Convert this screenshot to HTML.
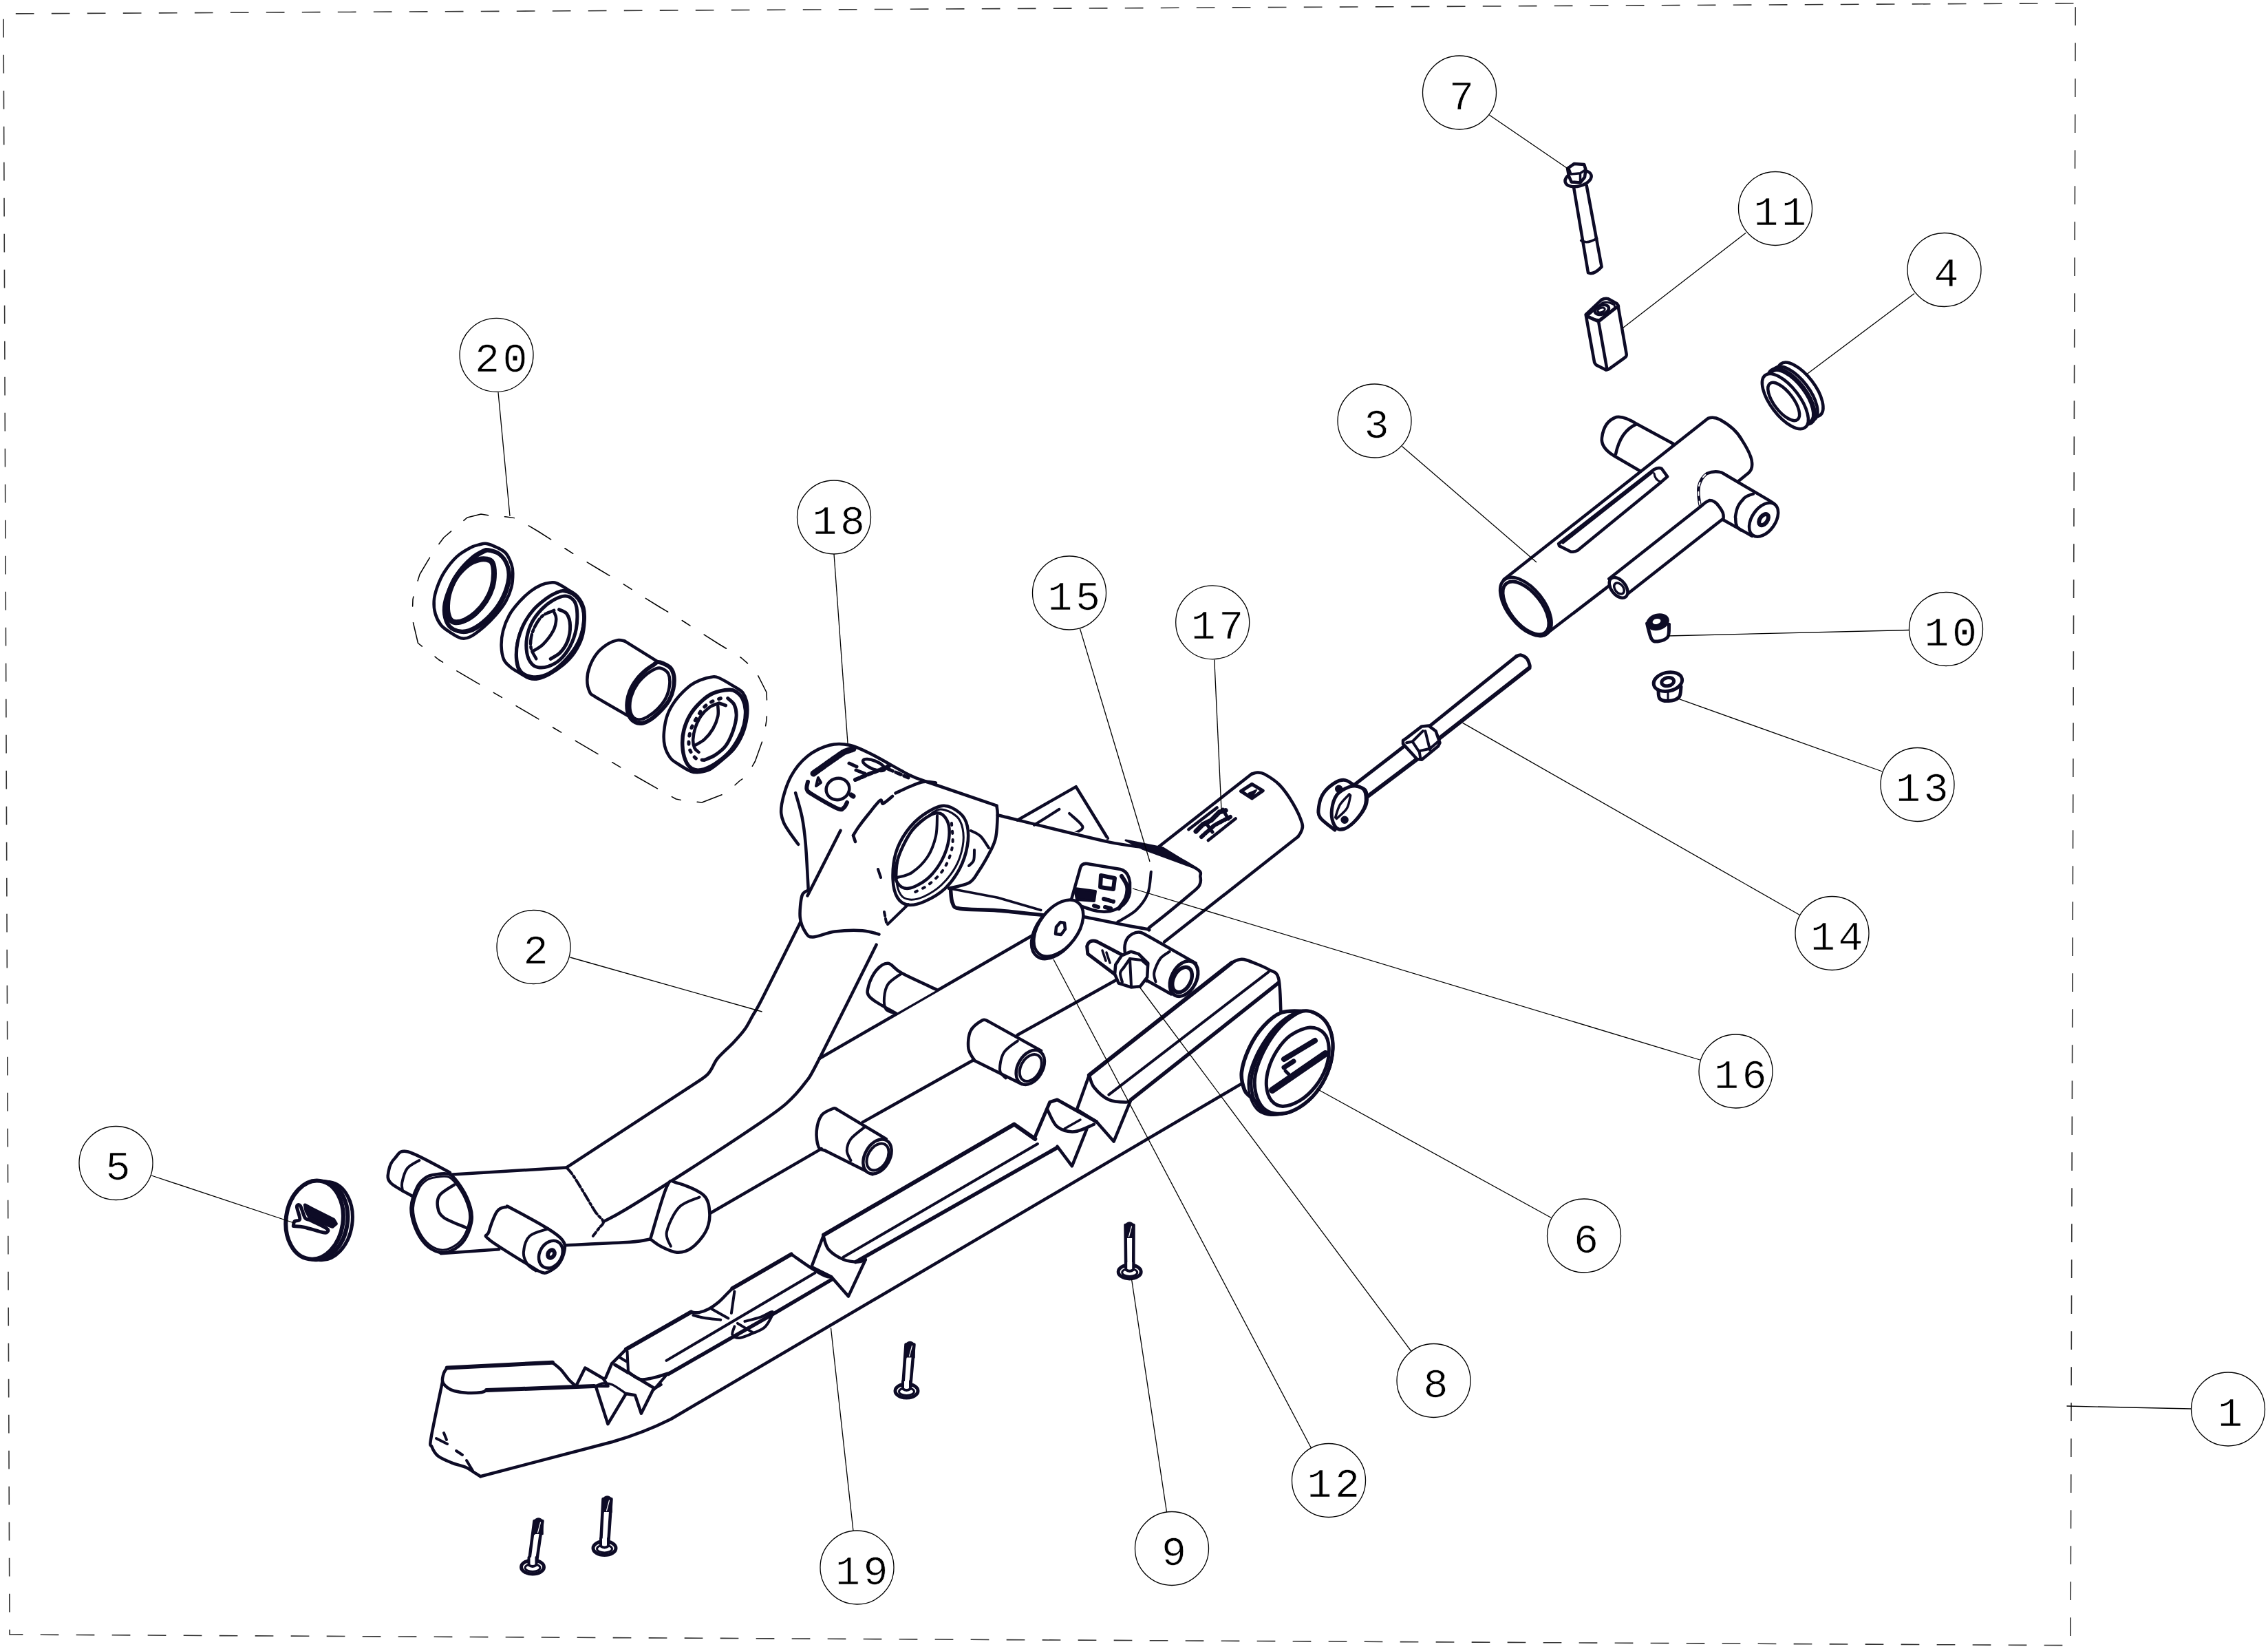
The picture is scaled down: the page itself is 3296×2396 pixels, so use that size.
<!DOCTYPE html>
<html><head><meta charset="utf-8"><style>
html,body{margin:0;padding:0;background:#fff;width:3296px;height:2396px;overflow:hidden}
svg{display:block}
</style></head><body>
<svg width="3296" height="2396" viewBox="0 0 3296 2396">
<rect width="3296" height="2396" fill="#fff"/>
<g fill="none" stroke="#333" stroke-width="1.6" stroke-dasharray="26.7 25.3">
<path d="M5.04,27.7 L14,2375 L3009,2390.7 L3016.2,4.7"/>
<path d="M22.8,19.9 L3016.2,4.7"/>
</g>
<g fill="none" stroke="#0d0b26" stroke-width="4.5" stroke-linejoin="round" stroke-linecap="round">
<!-- bolt 7 -->
<g id="bolt7">
<path d="M2287.2,273 L2308,396.3 Q2316,400 2327.6,387.6 L2305.7,269.5"/>
<path d="M2297.6,349.6 Q2307,355 2320.6,346.2" stroke-width="3.5"/>
<ellipse cx="2293.6" cy="259.5" rx="19.5" ry="11" transform="rotate(-15 2293.6 259.5)" fill="#fff"/>
<path d="M2278,244.8 L2287.8,237.9 L2302.2,239 L2304.5,246.5 L2303,257.5 L2296.5,265.5 L2283.7,264.4 L2280,256 Z" fill="#fff"/>
<path d="M2280,245 L2283,253 L2296.5,251.7 L2304.5,246.5 M2296.5,251.7 L2296.5,265.5" stroke-width="3.5"/>
</g>
<!-- spacer 11 -->
<g id="spacer11">
<path d="M2304.6,457.1 L2327.1,435.8 Q2332,433 2337.3,434.2 L2349.9,441.3 Q2352.5,444 2351.9,446.8 L2363.7,514.6 Q2364,518 2361,519.8 L2338.1,536.3 Q2335,538 2333,537.1 L2320,530.4 Q2317,528 2316.8,524.9 Z" fill="#fff"/>
<path d="M2305.4,459.4 L2323.1,467.3 L2351.1,445.2 M2323.1,467.3 L2335.3,535.9"/>
<path d="M2308,458 L2329,440 Q2336,437 2346,443 L2347,447 L2325,464 Q2321,466 2308,459" stroke-width="3"/>
<ellipse cx="2327.9" cy="450" rx="10.5" ry="6.5" transform="rotate(-20 2327.9 450)"/>
<ellipse cx="2327" cy="450.5" rx="5.5" ry="3.2" transform="rotate(-20 2327 450.5)" stroke-width="3"/>
</g>
<!-- bushing 4 -->
<g id="bush4">
<ellipse cx="2616.4" cy="566.1" rx="47" ry="21" transform="rotate(52.6 2616.4 566.1)" fill="#fff"/>
<ellipse cx="2608.4" cy="572.1" rx="47" ry="21" transform="rotate(52.6 2608.4 572.1)" fill="#fff"/>
<ellipse cx="2603.4" cy="576.1" rx="47" ry="21" transform="rotate(52.6 2603.4 576.1)" fill="#fff" stroke-width="7"/>
<ellipse cx="2594.4" cy="583.1" rx="47.8" ry="21" transform="rotate(52.6 2594.4 583.1)" fill="#fff"/>
<ellipse cx="2592.2" cy="583.5" rx="33" ry="14" transform="rotate(52.6 2592.2 583.5)"/>
</g>
<!-- part 3 T tube -->
<g id="part3">
<path d="M2344.7,661.7 Q2326,650 2328,636 Q2331,612 2349,606 Q2360,604 2378.6,616.1 L2431.7,644.7 L2420,700 L2382.9,684 Z" fill="#fff"/>
<path d="M2378.6,616.1 Q2355,626 2348,660"/>
<path d="M2185.5,842.1 L2482.7,607.6 Q2491,605 2499.6,609.7 Q2522,622 2531.5,639.4 Q2546,662 2546.1,672.7 Q2547,682 2541,687.2 L2526.6,699 L2572.4,727.9 L2583,760 L2546.1,778.8 L2503.7,755 L2444.2,800 L2244.9,922.8 Z" fill="#fff" stroke="none"/>
<path d="M2185.5,842.1 L2482.7,607.6 Q2491,605 2499.6,609.7 Q2522,622 2531.5,639.4 Q2546,662 2546.1,672.7 Q2547,682 2541,687.2 L2526.6,699"/>
<path d="M2470.6,733.9 Q2467,716 2469,706 Q2472,694 2480.7,688 Q2490,684 2499.4,685.9 Q2502,686 2504.5,688 L2572.4,727.9 Q2578,731 2580.9,734.7" />
<path d="M2470.6,733.9 Q2467,716 2469,706 Q2472,694 2480.7,688" stroke="#fff" stroke-width="2" stroke-dasharray="5 9"/>
<path d="M2547.8,717.7 Q2536,721 2533.4,725.4 Q2526,733 2524,740.6 Q2521,753 2522.3,753.4 Q2522,762 2524.9,766.1 L2530,770.4"/>
<path d="M2503.7,755 L2546.1,778.8"/>
<ellipse cx="2563.1" cy="755.1" rx="27.5" ry="17" transform="rotate(-55 2563.1 755.1)" fill="#fff"/>
<ellipse cx="2563.1" cy="755.1" rx="9" ry="5.5" transform="rotate(-55 2563.1 755.1)" stroke-width="6"/>
<path d="M2244.9,922.8 L2340.4,849.6"/>
<path d="M2338.3,841.1 L2474,733.9 Q2479,729 2484.1,727.1 Q2488,727 2490.9,728.8 Q2495,731 2498.6,736.4 Q2502,741 2503.7,744.9 Q2505,749 2504.5,753.4 L2359.5,867.6 Z" fill="#fff"/>
<ellipse cx="2352.1" cy="853.8" rx="17" ry="10.5" transform="rotate(51.7 2352.1 853.8)" fill="#fff"/>
<ellipse cx="2353" cy="855" rx="9" ry="6" transform="rotate(51.7 2353 855)" stroke-width="3.5"/>
<path d="M2265.1,790.1 L2404.1,681.9 Q2410,679 2414.7,680.8 L2423.2,692.5 L2414.7,699.9 L2292.7,799.7 Q2288,802 2283.1,801.8 L2266.1,793.3 Z"/>
<path d="M2271.4,789.1 L2402,686.1 M2404,688 Q2405,697 2413,700" stroke-width="3"/>
<ellipse cx="2217.4" cy="881.5" rx="50" ry="26.3" transform="rotate(51.7 2217.4 881.5)" fill="#fff"/>
<ellipse cx="2217.5" cy="883.5" rx="45.5" ry="23" transform="rotate(51.7 2217.5 883.5)" stroke-width="5"/>
</g>
<path d="M645.0,781.0 L679.0,752.0 L699.0,747.0 L711.0,749.0 L736.0,751.0 L750.0,753.0 L782.0,772.0 L815.0,793.0 L837.0,807.0 L870.0,827.0 L905.0,848.0 L925.0,861.0 L957.0,881.0 L992.0,902.0 L1012.0,915.0 L1045.0,936.0 L1065.0,948.0 L1077.5,956.0 L1097.5,973.5 L1114.0,1006.0 L1115.0,1031.0 L1114.0,1046.0 L1110.0,1071.0 L1097.5,1106.0 L1085.0,1127.5 L1075.0,1134.5 L1055.0,1152.5 L1020.0,1166.0 L995.0,1163.5 L982.5,1161.0 L957.5,1147.0 L925.0,1128.5 L659.0,972.0 L637.5,958.5 L625.0,948.5 L607.5,934.5 L599.0,898.5 L600.0,871.0 L602.5,858.5 L610.0,834.5 L630.0,801.0Z" stroke="#000" stroke-width="1.5" stroke-dasharray="14 24 38 24"/>
<path d="M707.3,790.0 C711.7,790.8 718.6,793.7 723.3,796.0 C728.0,798.3 732.0,800.0 735.3,804.0 C738.6,808.0 741.6,815.1 743.3,820.0 C745.0,824.9 745.3,827.8 745.3,833.3 C745.3,838.8 745.0,846.6 743.3,853.3 C741.6,860.0 739.1,866.6 735.3,873.3 C731.5,880.0 726.0,887.1 720.7,893.3 C715.4,899.5 709.5,905.4 703.3,910.7 C697.1,916.0 688.8,922.5 683.3,925.3 C677.8,928.1 674.9,928.4 670.0,927.3 C665.1,926.2 658.9,921.9 654.0,918.7 C649.1,915.5 644.2,912.5 640.7,908.0 C637.2,903.5 634.4,897.8 632.7,892.0 C631.0,886.2 630.3,879.8 630.7,873.3 C631.1,866.8 632.8,860.4 635.3,853.3 C637.8,846.2 641.3,838.0 646.0,830.7 C650.7,823.4 657.1,815.1 663.3,809.3 C669.5,803.5 677.7,799.0 683.3,796.0 C688.9,793.0 692.7,792.3 696.7,791.3 C700.7,790.3 702.9,789.2 707.3,790.0Z" fill="#fff" stroke-width="4.5"/>
<path d="M710.0,799.3 C714.0,800.1 721.5,801.8 726.0,805.3 C730.5,808.8 734.5,814.2 736.7,820.0 C738.9,825.8 740.2,832.2 739.3,840.0 C738.4,847.8 735.1,858.5 731.3,866.7 C727.5,874.9 722.5,882.4 716.7,889.3 C710.9,896.2 703.4,903.3 696.7,908.0 C690.0,912.7 682.9,916.2 676.7,917.3 C670.5,918.4 664.0,917.1 659.3,914.7 C654.6,912.3 650.9,908.3 648.7,902.7 C646.5,897.1 645.3,888.9 646.0,881.3 C646.7,873.7 649.2,865.7 652.7,857.3 C656.2,848.9 661.8,838.5 667.3,830.7 C672.8,822.9 680.2,815.7 686.0,810.7 C691.8,805.7 698.0,802.6 702.0,800.7 C706.0,798.8 706.0,798.5 710.0,799.3Z" stroke-width="6"/>
<path d="M712.0,801.3 C716.0,802.1 723.5,803.8 728.0,807.3 C732.5,810.8 736.5,816.2 738.7,822.0 C740.9,827.8 742.2,834.2 741.3,842.0 C740.4,849.8 737.1,860.5 733.3,868.7 C729.5,876.9 724.5,884.4 718.7,891.3 C712.9,898.2 705.4,905.3 698.7,910.0 C692.0,914.7 684.9,918.2 678.7,919.3 C672.5,920.4 666.0,919.1 661.3,916.7 C656.6,914.3 652.9,910.3 650.7,904.7 C648.5,899.1 647.3,890.9 648.0,883.3 C648.7,875.7 651.2,867.7 654.7,859.3 C658.2,850.9 663.8,840.5 669.3,832.7 C674.8,824.9 682.2,817.7 688.0,812.7 C693.8,807.7 700.0,804.6 704.0,802.7 C708.0,800.8 708.0,800.5 712.0,801.3Z" stroke-width="3"/>
<path d="M707.3,812.7 C710.6,813.4 713.5,813.9 715.3,817.3 C717.1,820.7 718.0,827.3 718.0,833.3 C718.0,839.3 717.3,846.6 715.3,853.3 C713.3,860.0 710.0,867.1 706.0,873.3 C702.0,879.5 696.4,886.0 691.3,890.7 C686.2,895.4 680.4,899.1 675.3,901.3 C670.2,903.5 664.5,904.7 660.7,904.0 C656.9,903.3 654.5,901.3 652.7,897.3 C650.9,893.3 649.8,886.7 650.0,880.0 C650.2,873.3 651.5,864.6 654.0,857.3 C656.5,850.0 660.2,842.2 664.7,836.0 C669.2,829.8 675.6,823.8 680.7,820.0 C685.8,816.2 690.9,814.5 695.3,813.3 C699.7,812.1 704.0,812.0 707.3,812.7Z" stroke-width="8"/>
<path d="M799.0,846.8 C802.7,846.4 804.4,845.6 808.9,847.4 C813.4,849.1 821.1,854.0 826.2,857.3 C831.4,860.6 836.1,862.9 839.8,867.2 C843.5,871.5 846.8,877.5 848.4,883.2 C850.0,889.0 850.0,894.5 849.6,901.7 C849.2,908.9 848.4,918.6 845.9,926.4 C843.4,934.2 839.3,942.0 834.8,948.6 C830.3,955.2 824.8,960.8 818.8,965.9 C812.8,971.0 805.2,976.1 799.0,979.5 C792.8,982.9 786.6,985.3 781.7,986.3 C776.8,987.3 773.7,987.0 769.4,985.7 C765.1,984.4 760.3,981.0 755.8,978.3 C751.3,975.6 746.1,972.9 742.2,969.6 C738.3,966.3 734.6,963.6 732.3,958.5 C730.0,953.4 728.8,945.8 728.6,938.8 C728.4,931.8 729.2,923.9 731.1,916.5 C733.0,909.1 735.9,901.3 739.8,894.3 C743.7,887.3 749.2,880.6 754.6,874.6 C760.0,868.6 766.5,862.6 771.9,858.5 C777.2,854.4 782.2,851.9 786.7,849.9 C791.2,847.9 795.3,847.2 799.0,846.8Z" fill="#fff" stroke-width="4.5"/>
<path d="M821.2,858.5 C825.9,859.3 833.0,861.8 837.3,865.9 C841.6,870.0 845.4,876.8 847.2,883.2 C849.1,889.6 849.2,896.6 848.4,904.2 C847.6,911.8 845.5,921.1 842.2,928.9 C838.9,936.7 834.2,944.1 828.6,951.1 C823.0,958.1 815.5,965.8 808.9,970.9 C802.3,976.0 795.3,980.0 789.1,982.0 C782.9,984.0 777.2,984.2 771.9,983.2 C766.5,982.2 760.5,979.9 757.0,975.8 C753.5,971.7 751.7,965.5 750.9,958.5 C750.1,951.5 750.5,942.2 752.1,933.8 C753.7,925.4 756.8,915.9 760.7,907.9 C764.6,899.9 770.0,892.1 775.6,885.7 C781.2,879.3 788.6,873.7 794.1,869.6 C799.6,865.5 804.4,862.9 808.9,861.0 C813.4,859.1 816.5,857.7 821.2,858.5Z" stroke-width="5"/>
<path d="M819.7,860.0 C824.4,860.8 831.5,863.3 835.8,867.4 C840.1,871.5 843.9,878.3 845.7,884.7 C847.6,891.1 847.7,898.1 846.9,905.7 C846.1,913.3 844.0,922.6 840.7,930.4 C837.4,938.2 832.7,945.6 827.1,952.6 C821.5,959.6 814.0,967.2 807.4,972.4 C800.8,977.5 793.8,981.5 787.6,983.5 C781.4,985.5 775.8,985.7 770.4,984.7 C765.0,983.7 759.0,981.4 755.5,977.3 C752.0,973.2 750.2,967.0 749.4,960.0 C748.6,953.0 749.0,943.7 750.6,935.3 C752.2,926.9 755.3,917.4 759.2,909.4 C763.1,901.4 768.5,893.6 774.1,887.2 C779.7,880.8 787.1,875.2 792.6,871.1 C798.1,867.0 802.9,864.4 807.4,862.5 C811.9,860.6 815.0,859.2 819.7,860.0Z" stroke-width="2.5"/>
<path d="M821.2,865.9 C826.2,865.9 830.7,868.6 833.6,872.1 C836.5,875.6 837.9,879.9 838.5,886.9 C839.1,893.9 838.9,905.5 837.3,914.1 C835.6,922.8 832.5,931.4 828.6,938.8 C824.7,946.2 819.1,953.6 813.8,958.5 C808.4,963.4 801.9,966.5 796.5,968.4 C791.1,970.2 785.8,970.4 781.7,969.6 C777.6,968.8 774.6,967.0 771.9,963.5 C769.2,960.0 766.7,954.8 765.7,948.6 C764.7,942.4 764.5,933.8 765.7,926.4 C766.9,919.0 769.6,911.0 773.1,904.2 C776.6,897.4 781.6,891.1 786.7,885.7 C791.8,880.4 798.1,875.4 803.9,872.1 C809.6,868.8 816.2,865.9 821.2,865.9Z" stroke-width="5"/>
<path d="M812.6,885.7 C814.5,886.7 821.0,888.0 823.7,891.9 C826.4,895.8 828.4,902.5 828.6,909.1 C828.8,915.7 827.4,924.8 824.9,931.4 C822.4,938.0 817.9,944.3 813.8,948.6 C809.7,952.9 802.5,955.8 800.2,957.3" stroke-width="5"/>
<path d="M805.2,889.4 C805.7,891.0 808.5,894.8 808.3,899.3 C808.1,903.8 807.2,910.3 804.0,916.5 C800.8,922.7 794.1,931.3 789.1,936.3 C784.1,941.2 776.8,944.6 774.3,946.2" stroke-width="4.5"/>
<path d="M805.2,886.9 C802.5,888.1 793.6,890.6 789.1,894.3 C784.6,898.0 780.9,903.8 778.0,909.1 C775.1,914.5 772.9,920.8 771.9,926.4 C770.9,932.0 770.7,937.4 771.9,942.5 C773.1,947.6 778.1,954.8 779.3,957.3" stroke-width="4.5" stroke-dasharray="14 4 3 4"/>
<path d="M897.8,930.1 L907.7,931.4 L957.0,962.2 L975.0,972.0 L979.4,990.0 L972.2,1017.7 L945.4,1045.6 L925.0,1050.0 L912.6,1040.0 L865.7,1012.8 L857.0,1005.4 L853.3,988.1 L857.0,968.4 L868.1,948.6 L884.2,935.1Z" fill="#fff" stroke="none"/>
<path d="M912.6,1040.0 C904.8,1035.5 875.0,1018.6 865.7,1012.8 C856.4,1007.0 859.1,1009.5 857.0,1005.4 C854.9,1001.3 853.3,994.3 853.3,988.1 C853.3,981.9 854.5,975.0 857.0,968.4 C859.5,961.8 863.6,954.1 868.1,948.6 C872.6,943.1 879.2,938.2 884.2,935.1 C889.2,932.0 893.9,930.7 897.8,930.1 C901.7,929.5 906.1,931.2 907.7,931.4" stroke-width="4.5"/>
<path d="M907.7,931.4 L957.0,962.2" stroke-width="4.5"/>
<path d="M955.7,962.1 C958.1,961.8 960.8,962.7 963.9,964.1 C967.0,965.5 971.6,967.2 974.2,970.3 C976.8,973.4 978.7,977.6 979.4,982.7 C980.1,987.9 979.6,995.4 978.4,1001.2 C977.2,1007.0 975.3,1012.4 972.2,1017.7 C969.1,1023.0 964.3,1028.6 959.8,1033.2 C955.3,1037.8 949.7,1042.7 945.4,1045.6 C941.1,1048.5 937.6,1050.0 934.0,1050.7 C930.4,1051.4 927.0,1051.4 923.7,1049.7 C920.4,1048.0 916.5,1044.7 914.4,1040.4 C912.3,1036.1 911.1,1029.9 911.3,1023.9 C911.5,1017.9 913.1,1010.5 915.5,1004.3 C917.9,998.1 921.8,991.9 925.8,986.8 C929.8,981.6 935.2,976.8 939.2,973.4 C943.2,970.0 946.8,968.1 949.5,966.2 C952.2,964.3 953.3,962.5 955.7,962.1Z" fill="#fff" stroke-width="6"/>
<path d="M961.9,971.3 C964.8,972.5 969.2,974.8 971.1,978.6 C973.0,982.4 973.7,988.2 973.2,994.0 C972.7,999.8 970.9,1007.6 968.0,1013.6 C965.1,1019.6 960.2,1025.5 955.7,1030.1 C951.2,1034.7 945.5,1038.8 941.2,1041.4 C936.9,1044.0 933.3,1045.4 929.9,1045.6 C926.5,1045.8 923.0,1045.1 920.6,1042.5 C918.2,1039.9 916.0,1035.3 915.5,1030.1 C915.0,1024.9 915.6,1017.7 917.5,1011.5 C919.4,1005.3 922.8,998.5 926.8,993.0 C930.8,987.5 936.7,982.2 941.2,978.6 C945.7,975.0 950.2,972.5 953.6,971.3 C957.0,970.1 959.0,970.1 961.9,971.3Z" stroke-width="4.5"/>
<path d="M1034.0,983.7 C1038.3,983.2 1038.6,982.3 1044.3,984.7 C1050.0,987.1 1062.2,994.5 1068.0,998.1 C1073.8,1001.7 1076.5,1002.4 1079.4,1006.4 C1082.3,1010.4 1084.6,1015.9 1085.6,1021.9 C1086.6,1027.9 1086.6,1035.1 1085.6,1042.5 C1084.6,1049.9 1082.5,1058.7 1079.4,1066.2 C1076.3,1073.8 1072.0,1081.5 1067.0,1087.8 C1062.0,1094.1 1055.3,1099.3 1049.5,1104.3 C1043.7,1109.3 1037.5,1114.8 1032.0,1117.7 C1026.5,1120.6 1021.1,1121.4 1016.5,1121.9 C1011.9,1122.4 1009.4,1122.9 1004.1,1120.8 C998.8,1118.7 989.5,1112.8 984.5,1109.5 C979.5,1106.2 977.3,1105.5 974.2,1101.2 C971.1,1096.9 967.5,1090.1 966.0,1083.7 C964.5,1077.3 964.3,1070.6 965.0,1063.1 C965.7,1055.5 967.2,1046.1 970.1,1038.4 C973.0,1030.7 977.0,1023.8 982.5,1016.7 C988.0,1009.7 997.1,1000.9 1003.1,996.1 C1009.1,991.3 1013.5,989.9 1018.6,987.8 C1023.8,985.7 1029.7,984.2 1034.0,983.7Z" fill="#fff" stroke-width="4.5"/>
<path d="M1059.8,1002.3 C1065.5,1002.0 1066.8,1003.2 1070.1,1005.4 C1073.4,1007.6 1077.2,1011.2 1079.4,1015.7 C1081.6,1020.2 1083.2,1026.0 1083.5,1032.2 C1083.8,1038.4 1083.1,1045.9 1081.4,1052.8 C1079.7,1059.7 1077.0,1066.5 1073.2,1073.4 C1069.4,1080.3 1064.7,1087.8 1058.8,1094.0 C1052.9,1100.2 1044.8,1106.4 1038.1,1110.5 C1031.4,1114.6 1024.1,1117.8 1018.6,1118.8 C1013.1,1119.8 1009.0,1119.1 1005.2,1116.7 C1001.4,1114.3 998.1,1109.8 995.9,1104.3 C993.7,1098.8 992.1,1090.9 991.8,1083.7 C991.4,1076.5 991.9,1068.5 993.8,1061.0 C995.7,1053.5 999.0,1045.3 1003.1,1038.4 C1007.2,1031.5 1013.1,1025.0 1018.6,1019.8 C1024.1,1014.6 1029.2,1010.3 1036.1,1007.4 C1043.0,1004.5 1054.1,1002.6 1059.8,1002.3Z" stroke-width="5.5"/>
<path d="M1047.4,1014.6 C1045.2,1015.5 1038.1,1017.6 1034.0,1019.8 C1029.9,1022.0 1026.1,1024.4 1022.7,1028.0 C1019.3,1031.6 1016.3,1036.6 1013.4,1041.4 C1010.5,1046.2 1007.2,1051.9 1005.2,1056.9 C1003.2,1061.9 1002.1,1066.5 1001.5,1071.3 C1000.9,1076.1 1000.7,1081.7 1001.5,1085.8 C1002.3,1089.9 1004.2,1093.2 1006.2,1096.1 C1008.2,1099.0 1010.5,1101.9 1013.4,1103.3 C1016.3,1104.7 1022.0,1104.1 1023.7,1104.3" stroke-width="5" stroke-dasharray="3 9"/>
<path d="M1023.7,1104.3 C1026.3,1103.1 1034.1,1100.5 1039.2,1097.1 C1044.3,1093.7 1050.3,1089.4 1054.6,1083.7 C1058.9,1078.0 1062.3,1070.3 1064.9,1063.1 C1067.5,1055.9 1069.8,1046.9 1070.1,1040.4 C1070.4,1033.9 1069.1,1028.2 1067.0,1023.9 C1064.9,1019.6 1059.2,1016.1 1057.7,1014.6" stroke-width="5"/>
<path d="M1045.4,1021.9 C1046.9,1022.4 1053.1,1024.5 1054.6,1025.0" stroke-width="5"/>
<path d="M1043.3,1026.0 C1043.3,1028.4 1044.5,1034.9 1043.3,1040.4 C1042.1,1045.9 1039.4,1053.3 1036.1,1059.0 C1032.8,1064.7 1028.0,1070.5 1023.7,1074.4 C1019.4,1078.4 1012.5,1081.3 1010.3,1082.7" stroke-width="4.5"/>
<path d="M1044.3,1021.9 C1042.2,1022.8 1036.3,1023.9 1032.0,1027.0 C1027.7,1030.1 1022.2,1035.2 1018.6,1040.4 C1015.0,1045.6 1012.2,1052.2 1010.3,1057.9 C1008.4,1063.6 1007.4,1069.6 1007.2,1074.4 C1007.0,1079.2 1007.9,1083.7 1009.3,1086.8 C1010.7,1089.9 1014.5,1092.0 1015.5,1093.0" stroke-width="4.5"/>
<path d="M1165.3,1335.7 L1108.3,1449.7 L1094.0,1475.3 L1082.6,1495.3 L1065.5,1515.2 L1042.7,1538.0 L1028.5,1560.8 L1000.0,1580.8 L823.3,1696.4 L823.3,1696.4 L654.0,1706.8 L640.6,1821.2 L945.1,1800.4 L1031.3,1763.2 L1050.0,1751.4 L1000.0,1700.5 L1099.7,1634.9 L1142.5,1603.6 L1171.0,1572.2 L1190.9,1538.0 L1273.6,1372.7Z" fill="#fff" stroke="none"/>
<path d="M1165.3,1335.7 C1155.8,1354.7 1120.2,1426.4 1108.3,1449.7 C1096.4,1473.0 1098.3,1467.7 1094.0,1475.3 C1089.7,1482.9 1087.3,1488.6 1082.6,1495.3 C1077.8,1502.0 1072.2,1508.1 1065.5,1515.2 C1058.8,1522.3 1048.9,1530.4 1042.7,1538.0 C1036.5,1545.6 1035.6,1553.7 1028.5,1560.8 C1021.4,1567.9 1004.8,1577.5 1000.0,1580.8" stroke-width="4.5"/>
<path d="M1000.0,1580.8 L823.3,1696.4" stroke-width="4.5"/>
<path d="M1273.6,1372.7 C1259.8,1400.2 1208.0,1504.8 1190.9,1538.0 C1173.8,1571.2 1179.1,1561.3 1171.0,1572.2 C1162.9,1583.1 1154.4,1593.1 1142.5,1603.6 C1130.6,1614.0 1123.5,1618.8 1099.7,1634.9 C1076.0,1651.1 1031.7,1680.1 1000.0,1700.5 C968.3,1720.9 930.0,1744.9 909.5,1757.3 C889.0,1769.7 882.2,1772.1 876.8,1775.1" stroke-width="4.5"/>
<path d="M1190.9,1538.0 L1501.6,1358.5" stroke-width="4.5"/>
<path d="M1031.3,1763.2 L1193.8,1669.1" stroke-width="4.5"/>
<path d="M1253.6,1630.6 L1416.1,1539.5" stroke-width="4.5"/>
<path d="M1478.8,1503.8 L1622.0,1424.0" stroke-width="4.5"/>
<path d="M654.0,1706.8 L823.3,1696.4" stroke-width="4.5"/>
<path d="M640.6,1821.2 L725.3,1815.2" stroke-width="4.5"/>
<path d="M820.4,1809.3 C836.2,1808.5 894.6,1806.3 915.4,1804.8 C936.2,1803.3 940.1,1801.1 945.1,1800.4" stroke-width="4.5"/>
<path d="M823.3,1696.4 C824.8,1698.1 828.2,1701.1 832.2,1706.8 C836.2,1712.5 841.7,1721.8 847.1,1730.7 C852.5,1739.6 860.0,1752.9 864.9,1760.3 C869.8,1767.7 875.8,1771.1 876.8,1775.1 C877.8,1779.0 873.4,1780.5 870.9,1784.0 C868.4,1787.5 863.4,1793.9 861.9,1795.9" stroke-width="4" stroke-dasharray="12 4 3 4"/>
<path d="M945.1,1800.4 C949.1,1787.8 962.5,1738.2 968.9,1724.6 C975.3,1711.0 974.8,1716.7 983.7,1718.7 C992.6,1720.7 1014.5,1729.1 1022.4,1736.5 C1030.3,1743.9 1030.8,1754.3 1031.3,1763.2 C1031.8,1772.1 1029.8,1781.6 1025.3,1790.0 C1020.8,1798.4 1011.4,1808.8 1004.5,1813.7 C997.6,1818.7 991.1,1820.2 983.7,1819.7 C976.3,1819.2 966.4,1814.0 960.0,1810.8 C953.6,1807.6 947.6,1802.1 945.1,1800.4" fill="#fff" stroke-width="4.5"/>
<path d="M1016.4,1739.5 C1011.5,1742.0 994.6,1745.9 986.7,1754.3 C978.8,1762.7 970.9,1780.6 968.9,1790.0 C966.9,1799.4 973.8,1807.3 974.8,1810.8" stroke-width="4"/>
<path d="M654.0,1703.8 C643.9,1698.8 606.5,1677.0 593.1,1673.5 C579.7,1670.0 578.5,1678.4 573.8,1683.0 C569.1,1687.6 565.9,1695.0 564.9,1700.9 C563.9,1706.9 561.6,1712.3 567.8,1718.7 C574.0,1725.1 596.3,1736.0 602.0,1739.5" fill="#fff" stroke-width="4.5"/>
<path d="M609.4,1686.0 C606.4,1688.0 595.8,1692.5 591.6,1697.9 C587.4,1703.4 585.3,1713.2 584.2,1718.7 C583.1,1724.2 585.0,1728.6 585.1,1730.6" stroke-width="4"/>
<path d="M631.7,1706.8 C637.7,1706.0 647.3,1703.3 654.0,1706.8 C660.7,1710.2 666.8,1719.6 671.8,1727.5 C676.8,1735.4 681.5,1746.4 683.7,1754.3 C685.9,1762.2 686.7,1767.2 685.2,1775.1 C683.7,1783.0 679.5,1795.0 674.8,1801.9 C670.1,1808.8 663.0,1813.7 657.0,1816.7 C651.0,1819.7 645.6,1821.2 639.1,1819.7 C632.6,1818.2 624.2,1813.8 618.3,1807.8 C612.4,1801.8 607.0,1792.9 603.5,1784.0 C600.0,1775.1 597.0,1764.2 597.5,1754.3 C598.0,1744.4 602.9,1731.8 606.4,1724.6 C609.9,1717.4 614.1,1714.3 618.3,1711.3 C622.5,1708.3 625.8,1707.5 631.7,1706.8Z" fill="#fff" stroke-width="4.5"/>
<path d="M632.4,1710.7 C637.9,1710.0 646.9,1707.5 653.1,1710.7 C659.3,1713.9 665.0,1722.6 669.6,1730.0 C674.2,1737.3 678.6,1747.5 680.7,1754.9 C682.8,1762.3 683.5,1766.9 682.1,1774.3 C680.7,1781.6 676.8,1792.7 672.4,1799.2 C668.1,1805.6 661.4,1810.2 655.9,1812.9 C650.3,1815.7 645.2,1817.1 639.2,1815.7 C633.2,1814.4 625.4,1810.2 619.9,1804.7 C614.4,1799.1 609.3,1790.8 606.1,1782.5 C602.9,1774.2 600.1,1764.1 600.5,1754.9 C601.0,1745.7 605.6,1734.0 608.8,1727.3 C612.0,1720.6 616.0,1717.7 619.9,1714.9 C623.8,1712.2 626.8,1711.4 632.4,1710.7Z" stroke-width="3"/>
<path d="M659.9,1721.6 C656.4,1724.1 643.0,1731.0 639.1,1736.5 C635.2,1742.0 635.2,1748.8 636.2,1754.3 C637.2,1759.8 638.2,1764.2 645.1,1769.2 C652.0,1774.2 672.3,1781.5 677.7,1784.0" stroke-width="4.5"/>
<path d="M781.7,1846.4 C770.1,1839.0 723.8,1811.3 711.9,1801.9 C700.0,1792.5 708.7,1796.9 710.4,1790.0 C712.1,1783.1 718.1,1766.3 722.3,1760.3 C726.5,1754.2 732.2,1754.5 735.7,1753.7 C739.2,1753.0 733.0,1750.5 743.1,1755.8 C753.2,1761.1 784.2,1777.8 796.6,1785.5 C809.0,1793.2 813.4,1796.7 817.4,1801.9 C821.4,1807.1 821.4,1810.8 820.4,1816.7 C819.4,1822.6 815.9,1832.0 811.4,1837.5 C806.9,1843.0 798.5,1847.9 793.6,1849.4 C788.7,1850.9 783.7,1846.9 781.7,1846.4" fill="#fff" stroke-width="4.5"/>
<path d="M796.6,1785.5 C792.1,1787.2 775.8,1790.2 769.8,1795.9 C763.8,1801.6 761.4,1812.8 760.9,1819.7 C760.4,1826.6 763.9,1833.0 766.9,1837.5 C769.9,1842.0 776.8,1844.9 778.8,1846.4" stroke-width="4"/>
<ellipse cx="800.4" cy="1822.7" rx="21" ry="16" transform="rotate(-60 800.4 1822.7)" fill="#fff"/>
<ellipse cx="801" cy="1822" rx="6" ry="4.5" transform="rotate(-60 801 1822)" stroke-width="6"/>
<path d="M1361.9,1438.3 C1353.4,1434.3 1322.5,1420.5 1310.6,1414.1 C1298.7,1407.7 1296.9,1400.5 1290.7,1399.8 C1284.5,1399.1 1278.3,1404.3 1273.6,1409.8 C1268.8,1415.3 1263.6,1425.9 1262.2,1432.6 C1260.8,1439.2 1258.3,1443.0 1265.0,1449.7 C1271.7,1456.4 1295.9,1468.7 1302.1,1472.5" fill="#fff" stroke-width="4.5"/>
<path d="M1310.6,1414.1 C1307.3,1416.7 1295.0,1423.8 1290.7,1429.7 C1286.4,1435.6 1285.5,1443.5 1285.0,1449.7 C1284.5,1455.9 1285.0,1463.0 1287.8,1466.8 C1290.6,1470.6 1299.7,1471.5 1302.1,1472.5" stroke-width="4"/>
<path d="M1436.0,1483.9 L1513.0,1526.6 L1518.7,1560.0 L1484.5,1575.1 L1416.1,1540.9Z" fill="#fff" stroke="none"/>
<path d="M1436.0,1483.9 C1434.6,1483.7 1431.8,1480.1 1427.5,1482.5 C1423.2,1484.9 1413.7,1491.2 1410.4,1498.1 C1407.1,1505.0 1406.5,1516.7 1407.5,1523.8 C1408.5,1530.9 1414.7,1538.1 1416.1,1540.9" stroke-width="4.5"/>
<path d="M1436.0,1483.9 L1513.0,1526.6" stroke-width="4.5"/>
<path d="M1416.1,1540.9 L1484.5,1575.1" stroke-width="4.5"/>
<path d="M1478.8,1512.4 C1475.5,1515.2 1463.1,1522.4 1458.8,1529.5 C1454.5,1536.6 1452.6,1548.9 1453.1,1555.1 C1453.6,1561.3 1460.3,1564.6 1461.7,1566.5" stroke-width="4"/>
<ellipse cx="1497.3" cy="1550.9" rx="27" ry="18" transform="rotate(-60 1497.3 1550.9)" fill="#fff"/>
<ellipse cx="1497.8" cy="1551.5" rx="21" ry="14" transform="rotate(-60 1497.8 1551.5)" stroke-width="4"/>
<path d="M1216.6,1612.1 L1287.8,1654.9 L1296.4,1690.0 L1267.9,1706.2 L1199.5,1672.0Z" fill="#fff" stroke="none"/>
<path d="M1216.6,1612.1 C1215.6,1611.9 1214.7,1609.3 1210.9,1610.7 C1207.1,1612.1 1197.8,1615.2 1193.8,1620.7 C1189.8,1626.2 1187.4,1635.9 1186.7,1643.5 C1186.0,1651.1 1187.4,1661.5 1189.5,1666.3 C1191.6,1671.0 1197.8,1671.0 1199.5,1672.0" stroke-width="4.5"/>
<path d="M1216.6,1612.1 L1287.8,1654.9" stroke-width="4.5"/>
<path d="M1199.5,1672.0 L1267.9,1706.2" stroke-width="4.5"/>
<path d="M1256.5,1637.8 C1253.2,1640.7 1240.8,1649.2 1236.5,1654.9 C1232.2,1660.6 1230.8,1666.8 1230.8,1672.0 C1230.8,1677.2 1235.5,1683.8 1236.5,1686.2" stroke-width="4"/>
<ellipse cx="1275" cy="1680.5" rx="27" ry="18" transform="rotate(-60 1275 1680.5)" fill="#fff"/>
<ellipse cx="1275.5" cy="1681" rx="21" ry="14" transform="rotate(-60 1275.5 1681)" stroke-width="4"/>
<path d="M1640.0,1240.0 L1682.5,1231.6 L1818.4,1124.9 L1822.0,1123.2 L1837.8,1124.9 L1859.6,1140.6 L1879.0,1167.3 L1892.3,1196.4 L1892.3,1206.1 L1886.3,1215.8 L1692.2,1368.6 L1650.0,1345.0Z" fill="#fff" stroke="none"/>
<path d="M1682.5,1231.6 L1818.4,1124.9" stroke-width="4.5"/>
<path d="M1818.4,1124.9 C1819.8,1124.5 1823.8,1122.5 1827.0,1122.5 C1830.2,1122.5 1832.4,1121.9 1837.8,1124.9 C1843.2,1127.9 1852.7,1133.5 1859.6,1140.6 C1866.5,1147.7 1873.5,1158.0 1879.0,1167.3 C1884.5,1176.6 1890.3,1189.6 1892.3,1196.4 C1894.3,1203.2 1892.0,1204.8 1891.0,1208.0 C1890.0,1211.2 1887.1,1214.5 1886.3,1215.8" stroke-width="4.5"/>
<path d="M1886.3,1215.8 L1692.2,1368.6" stroke-width="4.5"/>
<path d="M1803.5,1149.7 L1819.4,1139.4 L1835.2,1148.9 L1819.4,1160.0Z" stroke-width="5"/>
<path d="M1814.6,1152.9 L1825.7,1148.1 L1819.4,1157.6Z" fill="#0d0b26" stroke-width="2.5"/>
<path d="M1727.3,1205.2 L1768.6,1173.5" stroke-width="4.5"/>
<path d="M1755.9,1221.1 L1795.6,1189.4" stroke-width="4.5"/>
<path d="M1738.0,1208.0 L1748.0,1198.0 L1760.0,1192.0 L1772.0,1180.0 L1783.0,1177.0" stroke-width="7" stroke-dasharray="5 2"/>
<path d="M1746.0,1216.0 L1756.0,1207.0 L1765.0,1199.0 L1778.0,1192.0 L1788.0,1187.0" stroke-width="6" stroke-dasharray="4 3"/>
<path d="M1752.0,1195.0 L1762.0,1209.0" stroke-width="5"/>
<path d="M1777.0,1176.0 L1785.0,1190.0" stroke-width="5"/>
<path d="M1160.1,1226.8 L1138.8,1194.8 L1136.1,1168.1 L1149.5,1128.0 L1173.5,1098.7 L1205.5,1082.7 L1234.9,1082.7 L1266.9,1096.0 L1320.3,1125.4 L1347.0,1136.0 L1448.4,1170.7 L1449.7,1184.3 L1609.8,1223.1 L1682.5,1235.2 L1738.3,1261.9 L1744.4,1274.0 L1743.2,1286.2 L1731.0,1298.3 L1672.8,1345.6 L1663.1,1349.2 L1575.8,1332.2 L1450.0,1322.9 L1395.0,1320.2 L1384.3,1312.2 L1381.6,1293.5 L1320.3,1309.5 L1314.9,1317.5 L1293.6,1349.5 L1277.5,1357.6 L1253.5,1352.2 L1213.5,1353.6 L1181.5,1361.6 L1170.8,1354.9 L1162.8,1333.5 L1165.5,1301.5 L1174.8,1293.5Z" fill="#fff" stroke="none"/>
<path d="M1478.8,1191.6 L1563.7,1143.1 L1609.8,1218.2" stroke-width="4.5"/>
<path d="M1503.0,1198.8 L1539.4,1175.8" stroke-width="4"/>
<path d="M1554.0,1181.9 C1557.2,1185.1 1572.2,1196.5 1573.4,1201.3 C1574.6,1206.1 1563.3,1209.4 1561.3,1211.0" stroke-width="4"/>
<path d="M1478.8,1191.6 L1600.0,1220.0 L1609.8,1218.2Z" fill="#fff" stroke="none"/>
<path d="M1160.1,1226.8 C1156.5,1221.5 1142.8,1204.6 1138.8,1194.8 C1134.8,1185.0 1134.3,1179.2 1136.1,1168.1 C1137.9,1157.0 1143.3,1139.6 1149.5,1128.0 C1155.7,1116.4 1164.2,1106.2 1173.5,1098.7 C1182.8,1091.2 1195.3,1085.4 1205.5,1082.7 C1215.7,1080.0 1224.7,1080.5 1234.9,1082.7 C1245.1,1084.9 1252.7,1088.9 1266.9,1096.0 C1281.1,1103.1 1307.0,1118.7 1320.3,1125.4 C1333.6,1132.1 1342.5,1134.2 1347.0,1136.0" stroke-width="4.5"/>
<path d="M1347.0,1136.0 L1448.4,1170.7" stroke-width="4.5"/>
<path d="M1448.4,1170.7 C1448.6,1173.0 1449.9,1176.8 1449.7,1184.3 C1449.5,1191.8 1448.9,1207.3 1447.3,1215.8 C1445.7,1224.3 1444.3,1226.7 1440.0,1235.2 C1435.7,1243.7 1427.0,1258.9 1421.7,1266.8 C1416.4,1274.7 1415.4,1278.8 1408.3,1282.8 C1401.2,1286.8 1383.9,1289.5 1379.0,1290.8" stroke-width="4.5"/>
<path d="M1156.1,1152.1 C1157.7,1157.9 1163.0,1174.3 1165.5,1186.8 C1168.0,1199.2 1169.2,1209.0 1170.8,1226.8 C1172.3,1244.6 1174.1,1282.4 1174.8,1293.5" stroke-width="4.5"/>
<path d="M1174.8,1293.5 C1173.2,1294.8 1167.5,1294.8 1165.5,1301.5 C1163.5,1308.2 1161.9,1324.6 1162.8,1333.5 C1163.7,1342.4 1167.7,1350.2 1170.8,1354.9 C1173.9,1359.6 1174.4,1361.8 1181.5,1361.6 C1188.6,1361.4 1201.5,1355.2 1213.5,1353.6 C1225.5,1352.0 1242.8,1351.5 1253.5,1352.2 C1264.2,1352.9 1273.5,1356.7 1277.5,1357.6" stroke-width="4.5"/>
<path d="M1221.5,1206.8 L1173.5,1301.5" stroke-width="4.5"/>
<path d="M1240.0,1214.0 C1241.2,1212.0 1243.7,1207.2 1247.4,1202.0 C1251.1,1196.8 1256.7,1189.5 1262.0,1183.0 C1267.3,1176.5 1275.4,1165.6 1279.0,1163.0 C1282.6,1160.4 1280.4,1168.5 1283.4,1167.5 C1286.4,1166.5 1294.7,1158.8 1297.0,1157.0" stroke-width="4.5"/>
<path d="M1240.0,1214.0 L1243.0,1223.0" stroke-width="4.5"/>
<path d="M1301.4,1152.5 C1304.8,1150.9 1315.2,1145.8 1322.0,1143.0 C1328.8,1140.2 1335.7,1136.9 1342.0,1136.0 C1348.3,1135.1 1357.0,1137.2 1360.0,1137.5" stroke-width="4.5"/>
<path d="M1449.7,1184.3 C1476.4,1190.8 1571.0,1214.6 1609.8,1223.1 C1648.6,1231.6 1661.1,1228.7 1682.5,1235.2 C1703.9,1241.7 1728.0,1255.4 1738.3,1261.9 C1748.6,1268.4 1743.6,1270.0 1744.4,1274.0 C1745.2,1278.0 1745.4,1282.2 1743.2,1286.2 C1741.0,1290.2 1742.7,1288.4 1731.0,1298.3 C1719.3,1308.2 1684.1,1337.1 1672.8,1345.6 C1661.5,1354.1 1679.3,1351.4 1663.1,1349.2 C1646.9,1347.0 1590.3,1335.0 1575.8,1332.2" stroke-width="4.5"/>
<path d="M1636.0,1221.0 L1690.0,1232.0 L1738.3,1261.9 L1690.0,1244.0 L1660.0,1233.0Z" fill="#0d0b26" stroke-width="3"/>
<path d="M1672.8,1266.8 C1672.0,1272.0 1671.6,1289.0 1668.0,1298.3 C1664.4,1307.6 1658.3,1315.6 1651.0,1322.5 C1643.7,1329.4 1628.8,1336.7 1624.3,1339.5" stroke-width="4"/>
<path d="M1379.0,1290.8 L1450.0,1304.2 L1512.8,1322.5" stroke-width="3.5"/>
<path d="M1381.6,1293.5 C1382.0,1296.6 1382.1,1307.8 1384.3,1312.2 C1386.5,1316.7 1384.0,1318.4 1395.0,1320.2 C1406.0,1322.0 1429.2,1321.3 1450.0,1322.9 C1470.8,1324.5 1508.3,1328.8 1520.0,1330.0" stroke-width="5.5"/>
<path d="M1557.5,1305.2 L1570,1261 Q1572,1254 1580,1255 L1628,1263 Q1640,1266 1642,1282 L1642,1297 Q1638,1318 1613,1324 Q1600,1326 1587,1322 L1554,1311" stroke-width="4.5"/>
<path d="M1562.0,1291.0 L1592.0,1295.0 L1590.0,1309.0 L1565.0,1307.0Z" fill="#0d0b26" stroke-width="4"/>
<path d="M1600.0,1272.0 L1620.0,1276.0 L1618.0,1292.0 L1599.0,1289.0Z" stroke-width="6"/>
<path d="M1630.0,1273.0 C1631.3,1275.5 1637.0,1282.7 1638.0,1288.0 C1639.0,1293.3 1638.0,1299.7 1636.0,1305.0 C1634.0,1310.3 1627.7,1317.5 1626.0,1320.0" stroke-width="6"/>
<path d="M1590.0,1316.0 L1596.0,1318.0" stroke-width="6"/>
<path d="M1604.0,1306.0 L1618.0,1310.0" stroke-width="6" stroke-dasharray="4 3"/>
<path d="M1606.0,1318.0 L1614.0,1320.0" stroke-width="6"/>
<path d="M1371.0,1170.7 C1379.9,1170.2 1389.2,1176.5 1395.0,1181.4 C1400.8,1186.3 1403.9,1192.1 1405.7,1200.1 C1407.5,1208.1 1407.5,1219.3 1405.7,1229.5 C1403.9,1239.7 1400.3,1251.3 1395.0,1261.5 C1389.7,1271.7 1382.0,1282.8 1373.6,1290.8 C1365.1,1298.8 1353.2,1305.5 1344.3,1309.5 C1335.4,1313.5 1327.0,1315.8 1320.3,1314.9 C1313.6,1314.0 1308.0,1310.4 1304.2,1304.2 C1300.4,1298.0 1298.0,1288.2 1297.6,1277.5 C1297.2,1266.8 1298.3,1251.7 1301.6,1240.1 C1304.9,1228.5 1310.9,1217.4 1317.6,1208.1 C1324.3,1198.8 1332.7,1190.3 1341.6,1184.1 C1350.5,1177.9 1362.1,1171.2 1371.0,1170.7Z" fill="#fff" stroke-width="4.5"/>
<path d="M1366.0,1176.0 C1373.7,1175.3 1384.5,1181.3 1390.0,1186.0 C1395.5,1190.7 1397.5,1196.7 1399.0,1204.0 C1400.5,1211.3 1400.7,1220.8 1399.0,1230.0 C1397.3,1239.2 1394.2,1249.7 1389.0,1259.0 C1383.8,1268.3 1375.8,1278.7 1368.0,1286.0 C1360.2,1293.3 1349.7,1299.5 1342.0,1303.0 C1334.3,1306.5 1327.5,1307.5 1322.0,1307.0 C1316.5,1306.5 1312.2,1304.8 1309.0,1300.0 C1305.8,1295.2 1303.3,1287.7 1303.0,1278.0 C1302.7,1268.3 1303.8,1253.0 1307.0,1242.0 C1310.2,1231.0 1315.8,1220.7 1322.0,1212.0 C1328.2,1203.3 1336.7,1196.0 1344.0,1190.0 C1351.3,1184.0 1358.3,1176.7 1366.0,1176.0Z" stroke-width="3"/>
<path d="M1360.3,1181.4 C1367.9,1180.1 1373.2,1185.9 1376.3,1192.1 C1379.4,1198.3 1380.3,1209.0 1379.0,1218.8 C1377.7,1228.6 1373.6,1241.0 1368.3,1250.8 C1363.0,1260.6 1354.9,1270.8 1346.9,1277.5 C1338.9,1284.2 1327.4,1289.9 1320.3,1290.8 C1313.2,1291.7 1307.3,1287.7 1304.2,1282.8 C1301.1,1277.9 1300.3,1270.4 1301.6,1261.5 C1302.9,1252.6 1307.3,1239.7 1312.2,1229.5 C1317.1,1219.3 1322.9,1208.1 1330.9,1200.1 C1338.9,1192.1 1352.7,1182.7 1360.3,1181.4Z" stroke-width="4.5"/>
<path d="M1383.0,1196.0 C1383.2,1201.7 1385.8,1219.0 1384.0,1230.0 C1382.2,1241.0 1377.7,1252.8 1372.0,1262.0 C1366.3,1271.2 1357.0,1279.3 1350.0,1285.0 C1343.0,1290.7 1333.3,1294.2 1330.0,1296.0" stroke-width="4" stroke-dasharray="3 9"/>
<path d="M1362.0,1185.0 C1361.7,1190.0 1362.3,1205.0 1360.0,1215.0 C1357.7,1225.0 1353.8,1236.2 1348.0,1245.0 C1342.2,1253.8 1332.3,1263.0 1325.0,1268.0 C1317.7,1273.0 1307.5,1273.8 1304.0,1275.0" stroke-width="4"/>
<path d="M1411.0,1207.0 C1413.3,1208.3 1420.7,1210.8 1425.0,1215.0 C1429.3,1219.2 1435.0,1229.2 1437.0,1232.0" stroke-width="4"/>
<path d="M1416.0,1235.0 C1415.8,1237.5 1416.3,1246.2 1415.0,1250.0 C1413.7,1253.8 1409.2,1256.7 1408.0,1258.0" stroke-width="4"/>
<path d="M1290.0,1343.0 L1320.0,1314.0" stroke-width="4"/>
<path d="M1285.0,1325.0 L1288.0,1340.0" stroke-width="4" stroke-dasharray="6 4"/>
<path d="M1276.0,1263.0 L1280.0,1275.0" stroke-width="4"/>
<path d="M1174.0,1136.0 C1173.8,1137.8 1171.5,1143.5 1172.5,1146.5 C1173.5,1149.5 1172.5,1149.2 1180.0,1154.0 C1187.5,1158.8 1209.8,1171.8 1217.5,1175.0 C1225.2,1178.2 1224.2,1174.9 1226.4,1173.4 C1228.7,1171.9 1230.2,1167.2 1231.0,1166.0" stroke-width="6"/>
<ellipse cx="1217.5" cy="1146.5" rx="17" ry="15.5" transform="rotate(-20 1217.5 1146.5)" fill="none" stroke-width="4.5"/>
<path d="M1182.0,1124.0 L1196.0,1114.0 L1210.0,1104.0 L1226.0,1093.0 L1240.0,1088.0" stroke-width="9" stroke-dasharray="9 2"/>
<path d="M1189.0,1130.0 L1193.0,1137.0 L1186.0,1142.0Z" stroke-width="4"/>
<ellipse cx="1270" cy="1111.5" rx="17" ry="6" transform="rotate(22 1270 1111.5)" fill="none" stroke-width="4.5"/>
<path d="M1243.0,1133.0 L1262.0,1125.0 L1275.0,1120.0 L1292.0,1113.0" stroke-width="6" stroke-dasharray="6 4"/>
<path d="M1244.0,1119.0 L1257.0,1124.0" stroke-width="5"/>
<path d="M1234.0,1109.0 L1245.0,1114.0" stroke-width="5"/>
<path d="M1237.0,1155.0 L1240.0,1157.0" stroke-width="7"/>
<path d="M1290.0,1117.0 L1320.0,1130.0" stroke-width="5" stroke-dasharray="8 5"/>
<ellipse cx="1535" cy="1352" rx="46.8" ry="28" transform="rotate(-53 1535 1352)" fill="#fff"/>
<ellipse cx="1538.3" cy="1348.6" rx="46.8" ry="28" transform="rotate(-53 1538.3 1348.6)" fill="#fff"/>
<path d="M1534.0,1357.0 L1535.0,1347.0 L1541.0,1340.0 L1547.0,1341.0 L1548.0,1350.0 L1542.0,1358.0Z" stroke-width="4.5"/>
<path d="M1657.1,1354.7 L1737.9,1399.6 L1741.0,1440.0 L1702.0,1444.5 L1666.1,1424.3 L1634.6,1381.6Z" fill="#fff" stroke="none"/>
<path d="M1666.1,1425.4 C1661.8,1420.3 1645.2,1402.3 1640.0,1395.0 C1634.8,1387.7 1635.1,1386.4 1634.6,1381.6 C1634.1,1376.8 1635.0,1370.0 1636.9,1365.9 C1638.8,1361.8 1642.5,1358.8 1645.9,1356.9 C1649.3,1355.0 1653.1,1354.0 1657.1,1354.7 C1661.1,1355.4 1667.8,1360.0 1670.0,1361.0" stroke-width="4.5"/>
<path d="M1670.0,1361.0 L1737.9,1399.6" stroke-width="4.5"/>
<path d="M1666.1,1424.3 L1702.0,1444.5" stroke-width="4.5"/>
<path d="M1699.7,1382.7 C1697.5,1384.4 1690.0,1387.8 1686.3,1392.8 C1682.6,1397.8 1678.4,1407.4 1677.3,1413.0 C1676.2,1418.6 1679.1,1424.2 1679.5,1426.5" stroke-width="4"/>
<ellipse cx="1720.5" cy="1422" rx="27.5" ry="18" transform="rotate(-62 1720.5 1422)" fill="#fff" stroke-width="5"/>
<ellipse cx="1718" cy="1423.5" rx="19.5" ry="12.5" transform="rotate(-62 1718 1423.5)" stroke-width="5.5"/>
<path d="M1634.6,1389.5 L1594.3,1368.2 Q1583,1364 1579.7,1374.9 L1580.8,1386.1 L1621.2,1416.4" fill="#fff" stroke-width="5"/>
<path d="M1602.0,1381.0 L1607.0,1396.0" stroke-width="3.5"/>
<path d="M1608.0,1384.0 L1613.0,1399.0" stroke-width="3.5"/>
<path d="M1621.2,1401.8 L1630.2,1388.3 L1643.6,1382.7 L1654.8,1386.1 L1668.3,1399.6 L1667.2,1419.8 L1657.1,1433.2 L1643.6,1434.4 L1625.7,1428.7 L1620.1,1415.3Z" fill="#fff" stroke-width="4.5"/>
<path d="M1633.0,1406.0 L1642.0,1393.0 L1659.0,1395.0 L1667.0,1402.0" stroke-width="4"/>
<path d="M1642.0,1393.0 L1644.0,1433.0" stroke-width="4"/>
<path d="M1633.0,1406.0 C1632.2,1407.3 1628.3,1410.5 1628.0,1414.0 C1627.7,1417.5 1630.5,1424.8 1631.0,1427.0" stroke-width="4"/>
<path d="M649.7,1987.5 L802.9,1979.8 L837.1,2014.0 L850.3,1987.5 L876.8,2003.0 L894.4,1978.7 L909.8,1963.3 L1061.9,1872.9 L1090.0,1855.0 L1150.7,1822.9 L1197.1,1794.3 L1473.9,1633.6 L1504.3,1651.4 L1525.7,1601.4 L1536.4,1597.9 L1565.0,1612.1 L1582.9,1562.1 L1790.0,1396.1 L1811.4,1396.1 L1843.6,1408.6 L1857.9,1421.1 L1861.4,1469.3 L1804.3,1574.6 L1147.1,1960.0 L1110.0,1980.9 L1002.4,2040.4 L947.3,2071.3 L894.4,2093.4 L698.2,2145.2 L689.4,2139.7 L656.3,2125.3 L636.5,2115.4 L627.6,2102.2 L626.5,2089.0 L643.1,2007.4Z" fill="#fff" stroke="none"/>
<path d="M698.2,2145.2 L890,2095 Q935,2082 975,2062 L1804.3,1574.6" stroke-width="4.5"/>
<path d="M643.1,2007.4 C640.3,2021.0 629.1,2073.2 626.5,2089.0 C623.9,2104.8 625.9,2097.8 627.6,2102.2 C629.3,2106.6 631.7,2111.6 636.5,2115.4 C641.3,2119.2 649.5,2122.5 656.3,2125.3 C663.0,2128.1 671.5,2129.6 677.0,2132.0 C682.5,2134.4 685.9,2137.5 689.4,2139.7 C692.9,2141.9 696.7,2144.3 698.2,2145.2" stroke-width="4.5"/>
<path d="M634.0,2090.0 L650.0,2098.0" stroke-width="4"/>
<path d="M645.0,2082.0 L649.0,2092.0" stroke-width="4"/>
<path d="M663.0,2108.0 L672.0,2114.0" stroke-width="4"/>
<path d="M678.0,2122.0 L687.0,2137.0" stroke-width="4"/>
<path d="M649.7,1987.5 L802.9,1979.8" stroke-width="6"/>
<path d="M802.9,1979.8 C804.9,1981.5 811.0,1985.8 815.0,1990.0 C819.0,1994.2 823.3,2001.0 827.0,2005.0 C830.7,2009.0 835.4,2012.5 837.1,2014.0" stroke-width="4.5"/>
<path d="M649.7,1987.5 C648.9,1988.8 646.1,1991.7 645.0,1995.0 C643.9,1998.3 642.3,2003.9 643.1,2007.4 C643.9,2010.9 647.2,2013.7 650.0,2016.0 C652.8,2018.3 655.0,2019.7 660.0,2021.0 C665.0,2022.3 673.3,2023.7 680.0,2024.0 C686.7,2024.3 695.5,2023.7 700.0,2023.0 C704.5,2022.3 705.8,2020.5 707.0,2020.0" stroke-width="4.5"/>
<path d="M707.0,2020.0 L863.5,2014.0" stroke-width="6"/>
<path d="M837.1,2014.0 L850.3,1987.5 L876.8,2003.0 L883.4,2014.0 L865.7,2014.0 L883.4,2069.1 L909.8,2025.0 L923.0,2027.2 L931.9,2053.7 L949.5,2018.4 L960.5,2011.8" stroke-width="4.5"/>
<path d="M865.7,2014.0 C867.4,2013.3 872.0,2010.3 876.0,2010.0 C880.0,2009.7 884.4,2009.5 890.0,2012.0 C895.6,2014.5 906.5,2022.8 909.8,2025.0" stroke-width="3.5"/>
<path d="M894.4,1983.1 L949.5,2016.2" stroke-width="4.5"/>
<path d="M910.0,1960.4 L1004.4,1906.4" stroke-width="6"/>
<path d="M1004.4,1906.4 C1006.1,1906.5 1010.6,1907.9 1014.9,1907.2 C1019.1,1906.5 1024.9,1904.6 1029.9,1902.0 C1034.9,1899.4 1040.4,1895.2 1044.9,1891.5 C1049.4,1887.8 1053.7,1882.8 1056.9,1879.5 C1060.2,1876.2 1063.2,1873.2 1064.4,1872.0" stroke-width="4.5"/>
<path d="M1064.4,1872.0 L1149.9,1822.5" stroke-width="6"/>
<path d="M1149.9,1822.5 C1150.7,1823.0 1149.7,1822.2 1154.4,1825.5 C1159.1,1828.8 1170.8,1837.2 1178.3,1842.0 C1185.8,1846.8 1194.3,1851.8 1199.3,1854.0 C1204.3,1856.2 1206.8,1855.2 1208.3,1855.5" stroke-width="4.5"/>
<path d="M968.5,1976.9 L1184.4,1849.5" stroke-width="4"/>
<path d="M971.5,1996.4 L1062.9,1943.9 L1125.9,1907.9 L1209.8,1858.5" stroke-width="5.5"/>
<path d="M1007.4,1911.0 C1009.9,1911.6 1015.8,1913.6 1022.4,1914.7 C1029.0,1915.8 1043.1,1917.2 1047.2,1917.7" stroke-width="4"/>
<path d="M1034.4,1902.0 L1058.4,1915.4" stroke-width="4"/>
<path d="M1067.4,1876.5 L1062.9,1908.0" stroke-width="4"/>
<path d="M1082.4,1919.9 C1086.2,1918.9 1098.2,1916.2 1104.9,1913.9 C1111.7,1911.7 1121.7,1904.2 1122.9,1906.4 C1124.2,1908.7 1116.9,1922.4 1112.4,1927.4 C1107.9,1932.4 1102.2,1933.7 1095.9,1936.4 C1089.7,1939.2 1080.2,1943.4 1074.9,1943.9 C1069.7,1944.4 1065.7,1942.2 1064.4,1939.4 C1063.2,1936.7 1066.9,1929.4 1067.4,1927.4" stroke-width="4"/>
<path d="M1071.9,1922.9 L1094.4,1936.4" stroke-width="4"/>
<path d="M910.0,1960.4 L889.0,1981.4 L880.0,2002.4" stroke-width="4.5"/>
<path d="M911.5,1963.4 L913.0,1993.4" stroke-width="4"/>
<path d="M913.0,1993.4 C915.8,1995.2 923.8,2002.4 929.5,2003.9 C935.2,2005.4 940.2,2003.9 947.5,2002.4 C954.8,2000.9 968.8,1996.2 973.0,1994.9" stroke-width="4.5"/>
<path d="M968.5,1997.9 L950.5,2018.9" stroke-width="4"/>
<path d="M900.0,1972.0 L910.0,1978.0" stroke-width="4"/>
<path d="M893.0,1983.0 L913.0,1995.0" stroke-width="4"/>
<path d="M1197.1,1794.3 L1473.9,1633.6 L1504.3,1655.0" stroke-width="6"/>
<path d="M1225.7,1826.4 L1507.9,1662.1" stroke-width="4"/>
<path d="M1243.6,1833.6 L1536.4,1667.5" stroke-width="5.5"/>
<path d="M1197.1,1797.9 C1198.3,1800.9 1199.5,1810.4 1204.3,1815.7 C1209.1,1821.0 1218.6,1827.0 1225.7,1830.0 C1232.8,1833.0 1241.7,1833.6 1247.1,1833.6 C1252.5,1833.6 1256.1,1830.6 1257.9,1830.0" stroke-width="4.5"/>
<path d="M1197.1,1794.3 L1179.3,1840.7 L1207.9,1855.0 L1232.9,1883.6 L1257.9,1830.0" stroke-width="4.5"/>
<path d="M1504.3,1651.4 L1525.7,1601.4 L1536.4,1597.9 L1593.6,1630.0" stroke-width="5"/>
<path d="M1536.4,1665.7 L1557.9,1694.3 L1579.3,1640.7" stroke-width="4.5"/>
<path d="M1522.1,1612.1 C1524.5,1616.3 1529.9,1631.7 1536.4,1637.1 C1543.0,1642.5 1552.5,1644.9 1561.4,1644.3 C1570.3,1643.7 1585.2,1635.4 1590.0,1633.6" stroke-width="4.5"/>
<path d="M1547.0,1640.0 L1570.0,1627.0" stroke-width="3.5"/>
<path d="M1582.9,1562.1 L1790.0,1399.0" stroke-width="6"/>
<path d="M1790.0,1399.0 C1791.7,1398.2 1796.4,1395.2 1800.0,1394.5 C1803.6,1393.8 1804.1,1392.7 1811.4,1395.0 C1818.7,1397.3 1835.8,1404.2 1843.6,1408.6 C1851.3,1412.9 1854.9,1411.0 1857.9,1421.1 C1860.9,1431.2 1860.8,1461.3 1861.4,1469.3" stroke-width="4.5"/>
<path d="M1843.6,1412.1 L1611.4,1590.7" stroke-width="4"/>
<path d="M1857.9,1428.2 L1643.6,1597.9" stroke-width="5.5"/>
<path d="M1582.9,1562.1 C1584.1,1565.1 1585.2,1574.0 1590.0,1580.0 C1594.8,1586.0 1603.7,1594.3 1611.4,1597.9 C1619.1,1601.5 1631.0,1601.4 1636.4,1601.4 C1641.8,1601.4 1642.4,1598.5 1643.6,1597.9" stroke-width="4.5"/>
<path d="M1582.9,1562.1 L1565.0,1612.1 L1593.6,1630.0 L1618.6,1658.6 L1643.6,1597.9" stroke-width="4.5"/>
<path d="M1862.2,1471.3 C1852.8,1474.9 1844.1,1482.5 1836.4,1490.9 C1828.7,1499.3 1821.1,1510.7 1815.8,1521.9 C1810.5,1533.1 1805.6,1547.6 1804.4,1557.9 C1803.2,1568.2 1806.4,1577.7 1808.6,1583.7 C1810.8,1589.7 1813.3,1589.7 1817.8,1594.0 C1822.3,1598.3 1829.7,1605.5 1835.4,1609.5 C1841.1,1613.5 1845.4,1616.7 1851.9,1617.7 C1858.4,1618.7 1866.3,1618.8 1874.5,1615.7 C1882.7,1612.6 1893.4,1606.2 1901.3,1599.2 C1909.2,1592.2 1916.5,1582.9 1922.0,1573.4 C1927.5,1564.0 1931.9,1552.8 1934.3,1542.5 C1936.7,1532.2 1937.4,1520.8 1936.4,1511.5 C1935.4,1502.2 1932.2,1493.3 1928.1,1486.8 C1924.0,1480.3 1917.4,1475.3 1911.6,1472.4 C1905.8,1469.5 1901.3,1469.5 1893.1,1469.3 C1884.9,1469.1 1871.7,1467.7 1862.2,1471.3Z" fill="#fff" stroke-width="5.5"/>
<path d="M1884.1,1471.3 C1891.0,1469.6 1896.8,1471.5 1902.6,1474.4 C1908.4,1477.3 1915.0,1482.3 1919.1,1488.8 C1923.2,1495.3 1926.4,1504.2 1927.4,1513.5 C1928.4,1522.8 1927.7,1534.2 1925.3,1544.5 C1922.9,1554.8 1918.5,1566.0 1913.0,1575.4 C1907.5,1584.9 1900.2,1594.2 1892.3,1601.2 C1884.4,1608.2 1873.7,1614.6 1865.5,1617.7 C1857.3,1620.8 1849.4,1620.7 1842.9,1619.7 C1836.4,1618.7 1830.9,1616.3 1826.4,1611.5 C1821.9,1606.7 1818.0,1598.6 1816.1,1590.9 C1814.2,1583.2 1813.6,1574.2 1815.0,1565.1 C1816.4,1556.0 1820.0,1545.8 1824.3,1536.2 C1828.6,1526.6 1834.6,1516.0 1840.8,1507.4 C1847.0,1498.8 1854.2,1490.7 1861.4,1484.7 C1868.6,1478.7 1877.2,1473.0 1884.1,1471.3Z" stroke-width="3.5"/>
<path d="M1888.1,1470.3 C1895.0,1468.6 1900.8,1470.5 1906.6,1473.4 C1912.4,1476.3 1919.0,1481.3 1923.1,1487.8 C1927.2,1494.3 1930.4,1503.2 1931.4,1512.5 C1932.4,1521.8 1931.7,1533.2 1929.3,1543.5 C1926.9,1553.8 1922.5,1565.0 1917.0,1574.4 C1911.5,1583.9 1904.2,1593.2 1896.3,1600.2 C1888.4,1607.2 1877.7,1613.6 1869.5,1616.7 C1861.3,1619.8 1853.4,1619.7 1846.9,1618.7 C1840.4,1617.7 1834.9,1615.3 1830.4,1610.5 C1825.9,1605.7 1822.0,1597.6 1820.1,1589.9 C1818.2,1582.2 1817.6,1573.2 1819.0,1564.1 C1820.4,1555.0 1824.0,1544.8 1828.3,1535.2 C1832.6,1525.6 1838.6,1515.0 1844.8,1506.4 C1851.0,1497.8 1858.2,1489.7 1865.4,1483.7 C1872.6,1477.7 1881.2,1472.0 1888.1,1470.3Z" stroke-width="4.5"/>
<path d="M1893.1,1469.3 C1900.0,1467.6 1905.8,1469.5 1911.6,1472.4 C1917.4,1475.3 1924.0,1480.3 1928.1,1486.8 C1932.2,1493.3 1935.4,1502.2 1936.4,1511.5 C1937.4,1520.8 1936.7,1532.2 1934.3,1542.5 C1931.9,1552.8 1927.5,1564.0 1922.0,1573.4 C1916.5,1582.9 1909.2,1592.2 1901.3,1599.2 C1893.4,1606.2 1882.7,1612.6 1874.5,1615.7 C1866.3,1618.8 1858.4,1618.7 1851.9,1617.7 C1845.4,1616.7 1839.9,1614.3 1835.4,1609.5 C1830.9,1604.7 1827.0,1596.6 1825.1,1588.9 C1823.2,1581.2 1822.6,1572.2 1824.0,1563.1 C1825.4,1554.0 1829.0,1543.8 1833.3,1534.2 C1837.6,1524.6 1843.6,1514.0 1849.8,1505.4 C1856.0,1496.8 1863.2,1488.7 1870.4,1482.7 C1877.6,1476.7 1886.2,1471.0 1893.1,1469.3Z" fill="#fff" stroke-width="5"/>
<path d="M1903.4,1493.0 C1911.5,1492.5 1919.4,1496.4 1924.0,1501.2 C1928.6,1506.0 1930.7,1513.7 1931.2,1521.9 C1931.7,1530.2 1930.4,1541.2 1927.1,1550.7 C1923.8,1560.2 1917.9,1570.5 1911.6,1578.6 C1905.2,1586.7 1896.9,1594.4 1889.0,1599.2 C1881.1,1604.0 1871.1,1607.4 1864.2,1607.4 C1857.3,1607.4 1851.7,1604.0 1847.7,1599.2 C1843.8,1594.4 1841.2,1586.3 1840.5,1578.6 C1839.8,1570.9 1841.0,1561.6 1843.6,1552.8 C1846.2,1544.0 1850.7,1534.1 1856.0,1526.0 C1861.3,1517.9 1867.7,1509.8 1875.6,1504.3 C1883.5,1498.8 1895.3,1493.5 1903.4,1493.0Z" stroke-width="5"/>
<path d="M1849.0,1584.0 L1926.0,1531.0" stroke-width="10"/>
<path d="M1866.0,1539.0 L1911.0,1512.0" stroke-width="8"/>
<path d="M1866.0,1551.0 L1880.0,1542.0" stroke-width="7"/>
<path d="M1868.0,1556.0 L1878.0,1566.0" stroke-width="5"/>
<ellipse cx="471" cy="1774" rx="41" ry="57" transform="rotate(8 471 1774)" fill="#fff" stroke-width="5"/>
<ellipse cx="464" cy="1773.5" rx="41" ry="57" transform="rotate(8 464 1773.5)" fill="#fff" stroke-width="6"/>
<ellipse cx="457.1" cy="1772.6" rx="41.4" ry="57.3" transform="rotate(8 457.1 1772.6)" fill="#fff" stroke-width="6"/>
<path d="M426.3,1781.5 C426.6,1780.4 426.4,1776.4 428.0,1774.7 C429.6,1773.0 435.1,1774.8 435.7,1771.3 C436.3,1767.8 431.3,1756.7 431.4,1753.5 C431.5,1750.3 434.5,1749.5 436.5,1752.2 C438.5,1754.9 440.9,1766.1 443.3,1769.6 C445.7,1773.1 445.7,1770.5 450.9,1773.0 C456.1,1775.5 470.6,1782.1 474.7,1784.9 C478.8,1787.7 476.5,1789.0 475.6,1790.0 C474.8,1791.0 475.1,1791.9 469.6,1790.8 C464.1,1789.7 449.6,1784.8 442.4,1783.2 C435.2,1781.7 429.0,1781.8 426.3,1781.5" stroke-width="5"/>
<path d="M443.3,1750.9 L452.6,1756.0 L484.9,1772.2 L488.3,1778.1 L483.2,1782.3 L450.9,1770.5 L445.0,1759.4Z" fill="#0d0b26" stroke-width="5"/>
<path d="M1635.5,1780.0 L1636.2,1842.9" stroke-width="4.5"/>
<path d="M1647.5,1780.0 L1647.2,1842.9" stroke-width="4.5"/>
<path d="M1635.5,1799 L1635.5,1780 Q1641.5,1773 1647.5,1780 L1647.5,1799" fill="#0d0b26" stroke-width="2.5"/>
<path d="M1640.5,1797.0 L1644.5,1782.0" stroke-width="1.2" stroke="#fff"/>
<ellipse cx="1641.7" cy="1847.9" rx="16.5" ry="10" fill="#fff" stroke-width="5"/>
<ellipse cx="1641.7" cy="1848.9" rx="11" ry="5.5" fill="none" stroke-width="3"/>
<path d="M1636.2,1833.9 L1636.2,1844.9 Q1641.7,1848.9 1647.2,1844.9 L1647.2,1833.9" fill="#fff" stroke-width="4"/>
<path d="M1316.5,1953.5 L1312.0,2016.0" stroke-width="4.5"/>
<path d="M1328.5,1953.5 L1323.0,2016.0" stroke-width="4.5"/>
<path d="M1316.5,1972.5 L1316.5,1953.5 Q1322.5,1946.5 1328.5,1953.5 L1328.5,1972.5" fill="#0d0b26" stroke-width="2.5"/>
<path d="M1321.5,1970.5 L1325.5,1955.5" stroke-width="1.2" stroke="#fff"/>
<ellipse cx="1317.5" cy="2021" rx="16.5" ry="10" fill="#fff" stroke-width="5"/>
<ellipse cx="1317.5" cy="2022" rx="11" ry="5.5" fill="none" stroke-width="3"/>
<path d="M1312.0,2007 L1312.0,2018 Q1317.5,2022 1323.0,2018 L1323.0,2007" fill="#fff" stroke-width="4"/>
<path d="M876.5,2178.0 L873.0,2244.5" stroke-width="4.5"/>
<path d="M888.5,2178.0 L884.0,2244.5" stroke-width="4.5"/>
<path d="M876.5,2197 L876.5,2178 Q882.5,2171 888.5,2178 L888.5,2197" fill="#0d0b26" stroke-width="2.5"/>
<path d="M881.5,2195.0 L885.5,2180.0" stroke-width="1.2" stroke="#fff"/>
<ellipse cx="878.5" cy="2249.5" rx="16.5" ry="10" fill="#fff" stroke-width="5"/>
<ellipse cx="878.5" cy="2250.5" rx="11" ry="5.5" fill="none" stroke-width="3"/>
<path d="M873.0,2235.5 L873.0,2246.5 Q878.5,2250.5 884.0,2246.5 L884.0,2235.5" fill="#fff" stroke-width="4"/>
<path d="M776.5,2210.0 L768.5,2272.0" stroke-width="4.5"/>
<path d="M788.5,2210.0 L779.5,2272.0" stroke-width="4.5"/>
<path d="M776.5,2229 L776.5,2210 Q782.5,2203 788.5,2210 L788.5,2229" fill="#0d0b26" stroke-width="2.5"/>
<path d="M781.5,2227.0 L785.5,2212.0" stroke-width="1.2" stroke="#fff"/>
<ellipse cx="774" cy="2277" rx="16.5" ry="10" fill="#fff" stroke-width="5"/>
<ellipse cx="774" cy="2278" rx="11" ry="5.5" fill="none" stroke-width="3"/>
<path d="M768.5,2263 L768.5,2274 Q774,2278 779.5,2274 L779.5,2263" fill="#fff" stroke-width="4"/>
<path d="M2393.6,906.0 C2394.7,909.7 2397.4,923.9 2400.0,928.2 C2402.6,932.5 2405.2,932.4 2409.1,931.9 C2413.0,931.4 2421.0,929.6 2423.7,925.5 C2426.4,921.4 2425.2,910.3 2425.5,907.3" fill="#fff" stroke-width="5"/>
<ellipse cx="2409.1" cy="903.7" rx="15.5" ry="10.5" transform="rotate(-15 2409.1 903.7)" fill="#0d0b26" stroke-width="3"/>
<ellipse cx="2407.5" cy="903" rx="6" ry="3.8" transform="rotate(-15 2407.5 903)" fill="#fff" stroke="none"/>
<path d="M2410.0,1002.0 C2410.3,1004.2 2409.5,1012.2 2412.0,1015.0 C2414.5,1017.8 2420.3,1018.8 2425.0,1018.5 C2429.7,1018.2 2437.0,1016.4 2440.0,1013.0 C2443.0,1009.6 2442.5,1000.5 2443.0,998.0" fill="#fff" stroke-width="5"/>
<path d="M2424.0,1004.0 L2424.0,1016.0" stroke-width="3"/>
<ellipse cx="2423.9" cy="990.6" rx="21" ry="13.5" transform="rotate(-12 2423.9 990.6)" fill="#fff" stroke-width="5"/>
<ellipse cx="2423.7" cy="990.6" rx="9" ry="6" transform="rotate(-12 2423.7 990.6)" stroke-width="5"/>
<path d="M2203.7,953.6 L2077.2,1055.4 L2090.0,1074.1 L2222.4,970.6Z" fill="#fff" stroke="none"/>
<path d="M2203.7,953.6 L2077.2,1055.4" stroke-width="5"/>
<path d="M2222.4,970.6 L2090.0,1074.1" stroke-width="6"/>
<path d="M2203.7,953.6 C2204.8,953.3 2207.9,951.3 2210.5,951.9 C2213.1,952.5 2216.9,954.5 2219.0,957.0 C2221.1,959.5 2222.6,964.9 2223.2,967.2 C2223.8,969.5 2222.5,970.0 2222.4,970.6" stroke-width="5"/>
<path d="M2040.7,1084.3 L1966.0,1142.0" stroke-width="5"/>
<path d="M2059.4,1103.0 L1983.0,1160.7" stroke-width="6"/>
<path d="M2039.0,1075.8 L2044.1,1072.4 L2066.2,1055.4 L2076.4,1054.6 L2086.6,1062.2 L2092.5,1079.2 L2090.0,1084.3 L2066.2,1103.8 L2059.4,1103.0 L2039.0,1080.9Z" fill="#fff" stroke-width="4.5"/>
<path d="M2044.1,1079.2 L2052.6,1077.5 L2062.8,1092.8 L2064.5,1103.0" stroke-width="4"/>
<path d="M2052.6,1077.5 L2067.9,1062.2" stroke-width="4"/>
<path d="M2071.3,1062.2 L2078.1,1089.4" stroke-width="4"/>
<path d="M2062.8,1091.1 L2078.1,1087.7 L2090.0,1077.5" stroke-width="4"/>
<path d="M1940.0,1206.0 C1936.4,1203.0 1922.4,1193.8 1918.5,1187.9 C1914.6,1182.1 1916.0,1176.9 1916.8,1170.9 C1917.6,1165.0 1919.6,1157.9 1923.6,1152.2 C1927.6,1146.5 1935.4,1140.1 1940.6,1137.0 C1945.8,1133.9 1950.2,1132.8 1955.0,1133.6 C1959.8,1134.4 1967.0,1140.6 1969.4,1142.0" fill="#fff" stroke-width="5"/>
<path d="M1969.4,1142.0 C1973.9,1142.6 1980.5,1144.5 1983.0,1148.8 C1985.5,1153.0 1985.8,1161.5 1984.7,1167.5 C1983.6,1173.5 1980.5,1178.8 1976.2,1184.5 C1972.0,1190.2 1964.3,1198.1 1959.2,1201.5 C1954.1,1204.9 1949.4,1206.0 1945.7,1204.9 C1942.0,1203.8 1938.9,1199.5 1937.2,1194.7 C1935.5,1189.9 1934.7,1182.5 1935.5,1176.0 C1936.3,1169.5 1938.9,1160.7 1942.3,1155.6 C1945.7,1150.5 1951.3,1147.7 1955.8,1145.4 C1960.3,1143.1 1964.9,1141.4 1969.4,1142.0Z" fill="#fff" stroke-width="5"/>
<path d="M1971.9,1141.0 C1974.2,1142.1 1983.0,1143.5 1985.5,1147.8 C1988.0,1152.0 1988.3,1160.5 1987.2,1166.5 C1986.1,1172.5 1983.0,1177.8 1978.7,1183.5 C1974.5,1189.2 1966.8,1197.1 1961.7,1200.5 C1956.6,1203.9 1950.5,1203.3 1948.2,1203.9" stroke-width="2.5"/>
<path d="M1960.9,1153.9 C1958.7,1156.5 1950.8,1163.5 1947.4,1169.2 C1944.0,1174.9 1941.7,1184.8 1940.6,1187.9" stroke-width="3.5"/>
<path d="M1962.6,1155.6 C1961.8,1158.7 1960.9,1168.6 1957.5,1174.3 C1954.1,1180.0 1944.8,1187.0 1942.3,1189.6" stroke-width="3.5"/>
<circle cx="1945.7" cy="1146.3" r="3.5" fill="#0d0b26"/>
<circle cx="1954.1" cy="1191.3" r="3.5" fill="#0d0b26"/>
</g>
<g fill="none" stroke="#000" stroke-width="1.3">
<line x1="3184.5" y1="2047" x2="3003.5" y2="2043"/>
<line x1="828.5" y1="1391" x2="1107.5" y2="1470"/>
<line x1="2037.5" y1="648.5" x2="2233" y2="817"/>
<line x1="2782" y1="426.5" x2="2626" y2="543.5"/>
<line x1="220" y1="1708" x2="427.5" y2="1777"/>
<line x1="2254.5" y1="1769.5" x2="1913.5" y2="1582"/>
<line x1="2163.5" y1="166.5" x2="2282" y2="247.5"/>
<line x1="2051" y1="1963.5" x2="1656" y2="1434"/>
<line x1="1695.5" y1="2197" x2="1644.5" y2="1858.5"/>
<line x1="2775" y1="915.5" x2="2423" y2="924"/>
<line x1="2537" y1="338.5" x2="2358.5" y2="476.5"/>
<line x1="1905.5" y1="2104" x2="1531" y2="1394"/>
<line x1="2735.5" y1="1121" x2="2437" y2="1014.5"/>
<line x1="2615.5" y1="1329.5" x2="2125.6" y2="1050.4"/>
<line x1="1569.6" y1="913.9" x2="1671" y2="1252"/>
<line x1="2470.5" y1="1540" x2="1646" y2="1291"/>
<line x1="1764.8" y1="958.6" x2="1775" y2="1177"/>
<line x1="1212" y1="805" x2="1232" y2="1080"/>
<line x1="1240" y1="2224.5" x2="1207.5" y2="1929.5"/>
<line x1="724" y1="570" x2="741" y2="750"/>
</g>
<g fill="#fff" stroke="#000" stroke-width="1.3">
<circle cx="3238" cy="2047.5" r="53.5"/>
<circle cx="775.5" cy="1376" r="53.5"/>
<circle cx="1997.5" cy="611.5" r="53.5"/>
<circle cx="2825.5" cy="392" r="53.5"/>
<circle cx="168.5" cy="1690" r="53.5"/>
<circle cx="2302" cy="1795.5" r="53.5"/>
<circle cx="2121" cy="134.5" r="53.5"/>
<circle cx="2083.5" cy="2006" r="53.5"/>
<circle cx="1703" cy="2250" r="53.5"/>
<circle cx="2828" cy="914" r="53.5"/>
<circle cx="2580" cy="303" r="53.5"/>
<circle cx="1931" cy="2151" r="53.5"/>
<circle cx="2786.5" cy="1140" r="53.5"/>
<circle cx="2662.5" cy="1356" r="53.5"/>
<circle cx="1554" cy="861.5" r="53.5"/>
<circle cx="2522.5" cy="1556.5" r="53.5"/>
<circle cx="1762.2" cy="904.3" r="53.5"/>
<circle cx="1212" cy="751.5" r="53.5"/>
<circle cx="1245.5" cy="2277.5" r="53.5"/>
<circle cx="721.5" cy="515.8" r="53.5"/>
</g>
<g font-family="Liberation Mono" font-size="60" fill="#000" stroke="#fff" stroke-width="0.7">
<text x="3241" y="2071.5" text-anchor="middle">1</text>
<text x="778.5" y="1400" text-anchor="middle">2</text>
<text x="2000.5" y="635.5" text-anchor="middle">3</text>
<text x="2828.5" y="416" text-anchor="middle">4</text>
<text x="171.5" y="1714" text-anchor="middle">5</text>
<text x="2305" y="1819.5" text-anchor="middle">6</text>
<text x="2124" y="158.5" text-anchor="middle">7</text>
<text x="2086.5" y="2030" text-anchor="middle">8</text>
<text x="1706" y="2274" text-anchor="middle">9</text>
<text x="2837" y="938" text-anchor="middle" letter-spacing="4.5">10</text>
<text x="2589" y="327" text-anchor="middle" letter-spacing="4.5">11</text>
<text x="1940" y="2175" text-anchor="middle" letter-spacing="4.5">12</text>
<text x="2795.5" y="1164" text-anchor="middle" letter-spacing="4.5">13</text>
<text x="2671.5" y="1380" text-anchor="middle" letter-spacing="4.5">14</text>
<text x="1563" y="885.5" text-anchor="middle" letter-spacing="4.5">15</text>
<text x="2531.5" y="1580.5" text-anchor="middle" letter-spacing="4.5">16</text>
<text x="1771.2" y="928.3" text-anchor="middle" letter-spacing="4.5">17</text>
<text x="1221" y="775.5" text-anchor="middle" letter-spacing="4.5">18</text>
<text x="1254.5" y="2301.5" text-anchor="middle" letter-spacing="4.5">19</text>
<text x="730.5" y="539.8" text-anchor="middle" letter-spacing="4.5">20</text>
</g>
</svg></body></html>
